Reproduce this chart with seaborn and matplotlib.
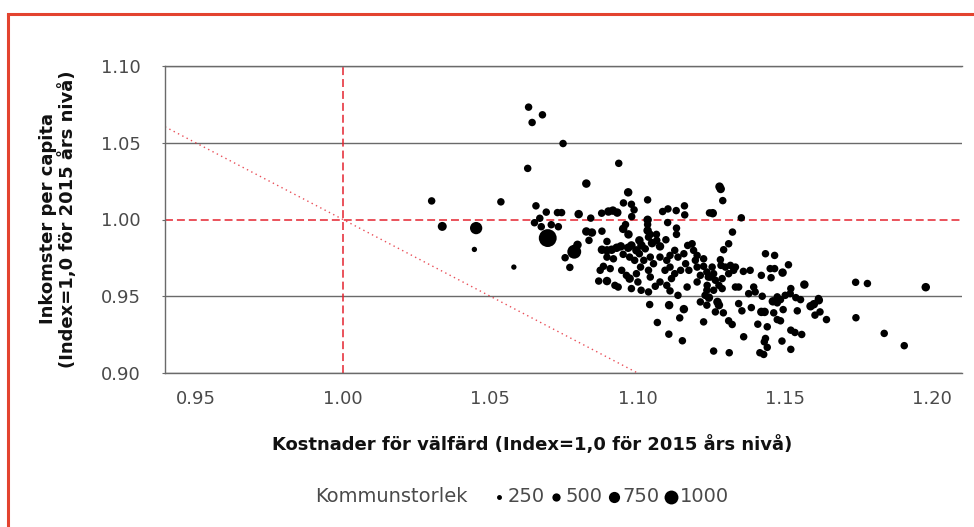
import matplotlib
matplotlib.use("Agg")
import matplotlib.pyplot as plt
from matplotlib.lines import Line2D
import numpy as np
import pandas as pd
import seaborn as sns

# Kommuner: (kostnad för välfärd, inkomster per capita), index 2015 = 1,0
# Vanliga kommuner (storlek ca 440)
vanliga = [
    (1.0630, 1.0732), (1.0677, 1.0682), (1.0642, 1.0632), (1.0747, 1.0495),
    (1.0627, 1.0333), (1.0301, 1.0121), (1.0536, 1.0115), (1.0655, 1.0089),
    (1.0690, 1.0048), (1.0728, 1.0045), (1.0742, 1.0045), (1.0668, 1.0008),
    (1.0650, 0.9979), (1.0673, 0.9953), (1.0707, 0.9966), (1.0731, 0.9953),
    (1.0936, 1.0366), (1.0952, 1.0108), (1.0979, 1.0099), (1.1034, 1.0128),
    (1.0988, 1.0063), (1.0841, 1.0009), (1.0878, 1.0041), (1.0980, 1.0019),
    (1.1034, 0.9967), (1.1085, 1.0052), (1.1103, 1.0069), (1.1131, 1.0058),
    (1.1159, 1.0089), (1.1160, 1.0030), (1.1102, 0.9980), (1.1244, 1.0043),
    (1.0835, 0.9864), (1.0879, 0.9924), (1.0959, 0.9967), (1.1043, 0.9903),
    (1.1064, 0.9903), (1.1132, 0.9944), (1.1132, 0.9903), (1.1096, 0.9868),
    (1.0754, 0.9751), (1.0770, 0.9688), (1.0896, 0.9857), (1.1037, 0.9885),
    (1.1065, 0.9864), (1.1026, 0.9809), (1.0896, 0.9755), (1.0918, 0.9744),
    (1.0884, 0.9695), (1.0907, 0.9680), (1.0873, 0.9669), (1.0951, 0.9773),
    (1.0973, 0.9755), (1.0990, 0.9734), (1.1006, 0.9777), (1.1021, 0.9734),
    (1.1010, 0.9690), (1.1043, 0.9755), (1.1054, 0.9712), (1.1037, 0.9669),
    (1.1076, 0.9755), (1.1099, 0.9734), (1.1110, 0.9766), (1.1126, 0.9799),
    (1.1137, 0.9755), (1.1157, 0.9777), (1.1170, 0.9831), (1.1185, 0.9842),
    (1.1190, 0.9799), (1.1202, 0.9766), (1.1196, 0.9734), (1.1224, 0.9744),
    (1.1093, 0.9669), (1.1110, 0.9690), (1.1126, 0.9647), (1.1115, 0.9615),
    (1.1146, 0.9669), (1.1163, 0.9712), (1.1174, 0.9669), (1.1202, 0.9690),
    (1.1224, 0.9695), (1.1235, 0.9658), (1.1240, 0.9625), (1.0868, 0.9599),
    (1.0923, 0.9571), (1.0934, 0.9560), (1.0979, 0.9550), (1.1001, 0.9593),
    (1.1012, 0.9539), (1.1043, 0.9625), (1.1060, 0.9565), (1.1076, 0.9593),
    (1.1099, 0.9571), (1.1137, 0.9506), (1.1168, 0.9560), (1.1202, 0.9593),
    (1.1235, 0.9539), (1.1229, 0.9506), (1.0946, 0.9669), (1.0962, 0.9636),
    (1.0996, 0.9647),
    (1.1037, 0.9528), (1.1110, 0.9535), (1.1041, 0.9446), (1.1213, 0.9463),
    (1.1235, 0.9442), (1.1067, 0.9329), (1.1143, 0.9359), (1.1224, 0.9333),
    (1.1106, 0.9253), (1.1152, 0.9210),
    (1.1289, 1.0123), (1.1352, 1.0011), (1.1322, 0.9918), (1.1309, 0.9842),
    (1.1292, 0.9803), (1.1281, 0.9738), (1.1283, 0.9701), (1.1298, 0.9690),
    (1.1315, 0.9701), (1.1332, 0.9690), (1.1326, 0.9669), (1.1309, 0.9647),
    (1.1253, 0.9690), (1.1258, 0.9647), (1.1247, 0.9625), (1.1264, 0.9604),
    (1.1213, 0.9636), (1.1287, 0.9615), (1.1276, 0.9571), (1.1287, 0.9550),
    (1.1258, 0.9539), (1.1236, 0.9571), (1.1332, 0.9560), (1.1343, 0.9560),
    (1.1359, 0.9662), (1.1382, 0.9669), (1.1420, 0.9636), (1.1434, 0.9777),
    (1.1465, 0.9766), (1.1450, 0.9680), (1.1465, 0.9680), (1.1453, 0.9621),
    (1.1512, 0.9705), (1.1394, 0.9560), (1.1399, 0.9528), (1.1377, 0.9517),
    (1.1423, 0.9500), (1.1520, 0.9550), (1.1474, 0.9496), (1.1501, 0.9506),
    (1.1518, 0.9517), (1.1614, 0.9485),
    (1.1264, 0.9398), (1.1291, 0.9392), (1.1309, 0.9340), (1.1321, 0.9316),
    (1.1343, 0.9452), (1.1354, 0.9405), (1.1386, 0.9426), (1.1474, 0.9457),
    (1.1485, 0.9478), (1.1462, 0.9392), (1.1474, 0.9348), (1.1485, 0.9340),
    (1.1494, 0.9413), (1.1408, 0.9318), (1.1440, 0.9301), (1.1537, 0.9491),
    (1.1553, 0.9478), (1.1542, 0.9405), (1.1602, 0.9377), (1.1619, 0.9398),
    (1.1641, 0.9348), (1.1520, 0.9279), (1.1534, 0.9264), (1.1557, 0.9251),
    (1.1360, 0.9236), (1.1434, 0.9225), (1.1430, 0.9203), (1.1440, 0.9167),
    (1.1490, 0.9208), (1.1520, 0.9154), (1.1258, 0.9143), (1.1311, 0.9132),
    (1.1415, 0.9132), (1.1428, 0.9121),
    (1.1740, 0.9591), (1.1780, 0.9583), (1.1741, 0.9360), (1.1837, 0.9258),
    (1.1905, 0.9178),
]

# Något större kommuner (storlek ca 520)
storre = [
    (1.0826, 1.0234), (1.0968, 1.0177), (1.0800, 1.0035), (1.0901, 1.0052),
    (1.0916, 1.0058), (1.0931, 1.0045), (1.1034, 0.9998), (1.0826, 0.9922),
    (1.0845, 0.9915), (1.0951, 0.9939), (1.0969, 0.9903), (1.1034, 0.9928),
    (1.0796, 0.9835), (1.0787, 0.9809), (1.0879, 0.9803), (1.0896, 0.9799),
    (1.0912, 0.9803), (1.0929, 0.9816), (1.0943, 0.9825), (1.0968, 0.9816),
    (1.0979, 0.9831), (1.1006, 0.9864), (1.1013, 0.9831), (1.0996, 0.9799),
    (1.1049, 0.9846), (1.1076, 0.9825), (1.0896, 0.9599), (1.0973, 0.9615),
    (1.1107, 0.9442), (1.1157, 0.9416),
    (1.1278, 1.0214), (1.1282, 1.0199), (1.1255, 1.0041), (1.1492, 0.9654),
    (1.1566, 0.9576), (1.1242, 0.9491), (1.1271, 0.9463), (1.1276, 0.9442),
    (1.1420, 0.9398), (1.1431, 0.9398), (1.1459, 0.9467), (1.1587, 0.9435),
    (1.1598, 0.9448), (1.1615, 0.9474), (1.1978, 0.9559),
]

# Små kommuner (storlek ca 280)
sma = [(1.0446, 0.9805), (1.0580, 0.9690)]

# Storstäder och större kommuner: (kostnad, inkomst, storlek)
storstader = [
    (1.0337, 0.9955, 560),
    (1.0452, 0.9944, 850),
    (1.0695, 0.9879, 1400),
    (1.0785, 0.9790, 1000),
]

x_ticks = [0.95, 1.00, 1.05, 1.10, 1.15, 1.20]
y_ticks = [0.90, 0.95, 1.00, 1.05, 1.10]
legend_storlek = [250, 500, 750, 1000]

RED = "#e4232f"
FRAME_RED = "#e3432f"
GRID = "#6a6a6a"
TEXT = "#4a4a4a"


def marker_area(v):
    return 100 * (np.asarray(v, dtype=float) / 1000) ** 1.5


rows = ([(x, y, 440) for x, y in vanliga]
        + [(x, y, 520) for x, y in storre]
        + [(x, y, 280) for x, y in sma]
        + storstader)
df = pd.DataFrame(rows, columns=["kostnad", "inkomst", "storlek"])

sns.set_theme(style="white")
plt.rcParams["font.family"] = ["DejaVu Sans"]

fig = plt.figure(figsize=(9.74, 5.27), dpi=100)
ax = fig.add_axes([165 / 974, 1 - 373 / 527, (962 - 165) / 974, (373 - 66) / 527])

sns.scatterplot(data=df, x="kostnad", y="inkomst", s=marker_area(df["storlek"]),
                color="black", linewidth=0, legend=False, ax=ax, zorder=3)

# reference lines
ax.axhline(1.00, color=RED, lw=1.1, dashes=(5.2, 2.6), zorder=2)
ax.axvline(1.00, color=RED, lw=1.1, dashes=(5.2, 2.6), zorder=2)
ax.axline((1.0, 1.0), slope=-1, color=RED, lw=1.0, linestyle=(0, (1, 2.5)), alpha=0.8, zorder=2)

ax.set_xlim(0.9396, 1.2101)
ax.set_ylim(0.90, 1.10)
ax.set_xticks(x_ticks)
ax.set_yticks(y_ticks)
ax.set_xticklabels([f"{t:.2f}" for t in x_ticks])
ax.set_yticklabels([f"{t:.2f}" for t in y_ticks])

ax.grid(axis="y", color=GRID, lw=1.0)
ax.grid(axis="x", visible=False)
ax.yaxis.get_gridlines()[2].set_visible(False)
ax.set_axisbelow(True)

ax.spines["right"].set_visible(False)
for side in ["left", "bottom", "top"]:
    ax.spines[side].set_color(GRID)
    ax.spines[side].set_linewidth(1.0)

ax.tick_params(axis="y", left=True, length=2.5, width=0.8, color=GRID, pad=15,
               labelsize=13, labelcolor=TEXT)
ax.tick_params(axis="x", bottom=False, length=0, pad=12, labelsize=13, labelcolor=TEXT)

ax.set_xlabel("")
ax.set_ylabel("")
fig.text(532 / 974, 1 - 445 / 527, "Kostnader för välfärd (Index=1,0 för 2015 års nivå)",
         ha="center", va="center", fontsize=13, fontweight="bold", color="#111111")
fig.text(58 / 974, 1 - 219 / 527, "Inkomster per capita\n(Index=1,0 för 2015 års nivå)",
         ha="center", va="center", rotation=90, multialignment="center",
         fontsize=13, fontweight="bold", color="#111111", linespacing=1.1)

# size legend
fig.text(315 / 974, 1 - 497 / 527, "Kommunstorlek", ha="left", va="center",
         fontsize=14, color=TEXT)
handles = [ax.scatter([], [], s=marker_area(v), color="black", linewidth=0) for v in legend_storlek]
fig.legend(handles, [str(v) for v in legend_storlek], ncol=4, frameon=False,
           loc="center left", bbox_to_anchor=(494 / 974, 1 - 497 / 527),
           handlelength=0.5, handletextpad=0.2, columnspacing=0.35,
           borderpad=0, borderaxespad=0, fontsize=14, labelcolor=TEXT,
           scatterpoints=1)

# red frame (top and left edge)
fig.add_artist(Line2D([8 / 974, 8 / 974], [0, 1 - 14 / 527], transform=fig.transFigure,
                      color=FRAME_RED, lw=2.2, solid_capstyle="butt"))
fig.add_artist(Line2D([8 / 974, 1], [1 - 14 / 527, 1 - 14 / 527], transform=fig.transFigure,
                      color=FRAME_RED, lw=2.2, solid_capstyle="projecting"))

fig.savefig("out.png", dpi=100, facecolor="white")
